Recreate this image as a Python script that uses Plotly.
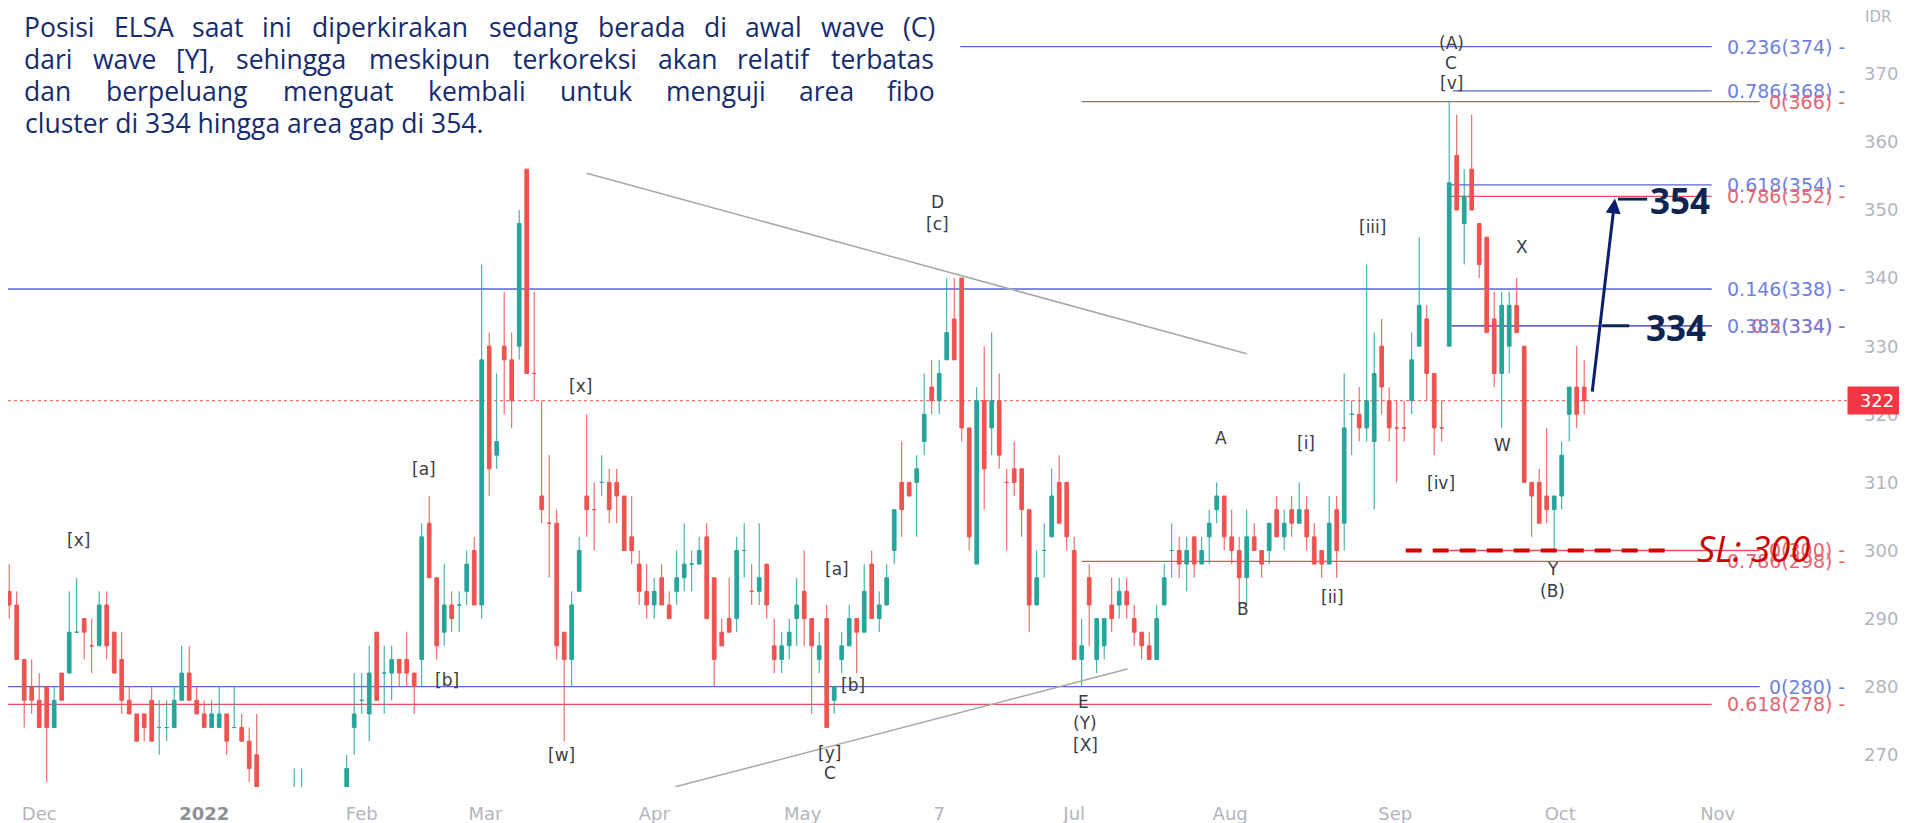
import plotly.graph_objects as go

# ---------------- data (daily candles, trading-day index) ----------------
opens = [288,294,292,284,280,278,280,274,282,282,288,290,286,286,292,288,284,278,276,276,
         278,274,274,274,278,282,278,276,274,274,276,274,274,272,270,262,260,258,256,260,
         260,262,258,256,254,258,262,274,278,276,288,282,282,284,284,282,284,304,296,288,
         292,292,294,300,292,330,314,330,328,330,356,326,308,304,304,288,284,294,308,306,
         310,310,310,308,302,298,294,292,296,292,294,296,298,298,302,296,288,290,290,300,
         294,294,298,286,284,286,290,294,290,284,290,278,284,286,290,288,298,290,292,300,
         310,310,310,316,324,322,328,334,340,318,298,322,318,322,310,312,312,306,292,300,
         302,310,310,300,284,296,284,286,292,292,294,290,288,286,284,292,300,300,298,302,
         298,302,306,308,302,300,296,302,300,300,306,302,306,304,306,302,300,298,306,304,
         320,320,318,316,330,322,318,318,322,330,334,326,318,330,358,348,356,348,346,334,
         326,330,336,330,310,310,308,306,308,320,324,324]
highs = [296,298,294,284,284,282,280,280,282,294,296,290,290,294,294,288,288,280,276,276,
         280,278,278,280,286,286,280,278,278,280,276,280,276,274,276,264,262,262,262,268,
         268,264,262,260,260,262,270,282,282,286,288,286,286,284,288,282,304,308,296,298,
         294,294,300,302,342,332,326,338,332,350,356,338,322,314,306,288,294,302,320,310,
         314,312,312,308,308,300,298,296,298,294,300,304,300,302,304,296,290,296,302,304,
         298,304,298,290,288,290,296,300,290,288,292,280,288,292,290,298,300,294,298,306,
         316,310,314,326,328,328,340,340,340,318,324,330,332,326,312,316,312,306,300,304,
         312,314,310,302,290,298,290,290,296,296,296,292,288,288,292,298,304,302,302,302,
         302,306,310,308,306,302,306,304,300,304,308,306,308,310,308,304,300,308,308,326,
         322,324,342,332,334,324,322,322,332,346,336,326,322,366,364,356,364,348,346,338,
         338,338,340,330,310,312,318,308,316,324,330,328]
lows = [286,290,284,274,276,274,266,274,278,282,288,284,282,286,284,282,276,276,272,272,
        272,270,272,274,278,278,276,274,274,274,270,274,272,266,262,258,256,254,254,258,
        258,256,254,252,252,256,260,270,276,272,278,276,278,280,280,276,280,296,284,286,
        288,288,292,292,290,308,312,320,318,328,326,322,304,296,284,272,280,294,302,300,
        308,304,304,300,298,292,290,290,292,290,292,294,294,298,290,280,286,288,288,296,
        292,292,290,282,282,284,286,286,276,282,274,276,282,286,282,288,290,288,292,298,
        302,308,302,314,320,320,328,328,316,300,298,306,314,312,300,308,302,288,292,296,
        302,304,300,284,280,286,282,284,288,290,290,286,284,284,284,292,296,296,294,296,
        298,298,304,300,298,292,292,300,296,298,302,300,302,304,300,298,296,298,296,300,
        314,316,316,306,320,316,310,316,320,330,322,314,316,330,350,342,350,340,332,324,
        318,326,332,310,302,304,304,300,306,316,318,320]
closes = [294,292,284,278,278,274,274,278,278,288,288,288,286,292,286,282,278,276,272,274,
          272,274,274,278,282,278,276,274,276,276,272,274,272,268,264,260,258,256,260,262,
          262,258,256,254,258,260,268,276,278,282,278,282,284,282,282,280,302,296,286,292,
          290,292,298,292,328,312,316,328,322,348,326,326,306,304,286,284,292,300,306,306,
          310,306,308,300,300,294,292,294,292,290,296,298,298,300,290,284,286,288,300,300,
          294,296,292,284,286,288,292,290,286,286,274,280,286,290,288,294,290,292,296,306,
          306,308,312,320,322,326,332,328,318,302,322,312,322,314,310,310,306,292,296,300,
          308,304,302,284,286,292,290,290,290,294,292,288,286,284,290,296,300,298,300,298,
          300,304,308,302,300,296,302,300,298,304,302,304,304,306,302,298,298,304,300,318,
          320,318,322,326,324,318,318,318,328,336,326,318,318,354,350,352,350,342,332,326,
          336,336,332,310,308,304,306,308,314,324,320,322]
candle_idx = list(range(len(opens)))

month_pos = [5, 27, 48, 64.5, 87, 106.8, 125, 143, 163.8, 185.8, 207.8, 228.8]
month_text = ["Dec", "<span style='color:#8d9099'><b>2022</b></span>", "Feb", "Mar", "Apr",
              "May", "7", "Jul", "Aug", "Sep", "Oct", "Nov"]
price_ticks = [270, 280, 290, 300, 310, 320, 330, 340, 350, 360, 370]
last_price = 322

# fib levels: (start index, end index, level, colour key, label)
fib_levels = [
    (127.8, 228.0, 374.0, "b", "0.236(374) -"),
    (193.5, 228.0, 367.5, "b", "0.786(368) -"),
    (144.0, 234.4, 365.9, "r", "0(366) -"),
    (193.0, 228.0, 353.7, "b", "0.618(354) -"),
    (193.0, 228.0, 352.0, "r", "0.786(352) -"),
    (0.0, 228.0, 338.4, "b", "0.146(338) -"),
    (193.3, 228.0, 333.0, "r", "0.5(334) -"),
    (193.3, 228.0, 333.0, "b", "0.382(334) -"),
    (193.0, 234.4, 300.0, "r", "0(300) -"),
    (144.0, 228.0, 298.4, "r", "0.786(298) -"),
    (0.0, 234.4, 280.0, "b", "0(280) -"),
    (0.0, 228.0, 277.4, "r", "0.618(278) -"),
]

wave_labels = [
    ("[x]", 10.2, 301.5), ("[a]", 56.3, 312.0), ("[b]", 59.4, 281.0),
    ("[x]", 77.2, 324.2), ("[w]", 74.7, 270.0), ("[a]", 111.4, 297.3),
    ("[b]", 113.5, 280.3), ("[y]", 110.4, 270.3), ("C", 110.4, 267.3),
    ("D", 124.8, 351.2), ("[c]", 124.8, 347.9), ("E", 144.2, 277.8),
    ("(Y)", 144.4, 274.7), ("[X]", 144.5, 271.4), ("A", 162.6, 316.5),
    ("B", 165.5, 291.4), ("[i]", 173.9, 315.8), ("[ii]", 177.4, 293.2),
    ("[iii]", 182.8, 347.5), ("[iv]", 191.9, 309.9), ("W", 200.1, 315.5),
    ("X", 202.7, 344.6), ("Y", 206.8, 297.3), ("(B)", 206.8, 294.0),
    ("(A)", 193.3, 374.5), ("C", 193.3, 371.6), ("[v]", 193.3, 368.6),
]

para_lines = [
    ("Posisi ELSA saat ini diperkirakan sedang berada di awal wave (C)", True),
    ("dari wave [Y], sehingga meskipun terkoreksi akan relatif terbatas", True),
    ("dan berpeluang menguat kembali untuk menguji area fibo", True),
    ("cluster di 334 hingga area gap di 354.", False),
]

# ---------------- geometry ----------------
# the page adds an 8px body margin, so the figure is 8px smaller and offset
OFF = 8
W, H = 1907 - OFF, 823 - OFF
ML, MR, MT, MB = 0, 60, 0, 36
PW, PH = W - ML - MR, H - MT - MB
XR = [0.84, 246.04]
YR = [265.27, 379.66]


def px_x(x_ref):
    return (x_ref - OFF) / PW


def px_y(y_ref):
    return 1 - (y_ref - OFF) / PH


BLUE_LINE, BLUE_TXT = "#5566d9", "#6f7fdc"
RED_LINE, RED_TXT = "#e3505e", "#e8646f"
NAVY = "#0d2350"
PARA = "#142b6f"

fig = go.Figure()
fig.add_trace(go.Candlestick(
    x=candle_idx, open=opens, high=highs, low=lows, close=closes,
    increasing=dict(line=dict(color="#26a69a", width=1), fillcolor="#26a69a"),
    decreasing=dict(line=dict(color="#ef5350", width=1), fillcolor="#ef5350"),
    whiskerwidth=0, hoverinfo="skip", showlegend=False,
))

shapes = []
for s, e, lvl, ck, lab in fib_levels:
    col = BLUE_LINE if ck == "b" else RED_LINE
    shapes.append(dict(type="line", xref="x", yref="y", x0=max(s, XR[0]), x1=e, y0=lvl, y1=lvl,
                       line=dict(color=col, width=1.3), layer="below"))
shapes.append(dict(type="line", xref="paper", yref="y", x0=0, x1=1, y0=last_price, y1=last_price,
                   line=dict(color="#ef5350", width=1, dash="dot"), layer="below"))
shapes.append(dict(type="line", xref="x", yref="y", x0=78.0, y0=355.4, x1=166.0, y1=328.9,
                   line=dict(color="#a8a8a8", width=1.5)))
shapes.append(dict(type="line", xref="x", yref="y", x0=89.8, y0=265.3, x1=150.1, y1=282.6,
                   line=dict(color="#a8a8a8", width=1.5)))
shapes.append(dict(type="line", xref="x", yref="y", x0=187.2, x1=222.8, y0=300, y1=300,
                   line=dict(color="#d50000", width=4, dash="16px,11px")))
shapes.append(dict(type="line", xref="x", yref="y", x0=215.5, x1=219.4, y0=351.6, y1=351.6,
                   line=dict(color=NAVY, width=3)))
shapes.append(dict(type="line", xref="x", yref="y", x0=213.4, x1=217.0, y0=333.0, y1=333.0,
                   line=dict(color=NAVY, width=3)))

ann = []
for s, e, lvl, ck, lab in fib_levels:
    ann.append(dict(xref="paper", yref="y", x=1, y=lvl, xanchor="right", yanchor="middle",
                    text=lab, showarrow=False,
                    font=dict(family="DejaVu Sans", size=19,
                              color=BLUE_TXT if ck == "b" else RED_TXT)))
for t, xi, yv in wave_labels:
    ann.append(dict(xref="x", yref="y", x=xi, y=yv, text=t, showarrow=False,
                    xanchor="center", yanchor="middle",
                    font=dict(family="DejaVu Sans", size=17, color="#3a3d45")))

# paragraph, justified word by word (approximate Open Sans advance widths)
CW = {'a': .556, 'b': .613, 'c': .480, 'd': .613, 'e': .561, 'f': .336, 'g': .548, 'h': .614,
      'i': .258, 'j': .258, 'k': .531, 'l': .258, 'm': .932, 'n': .614, 'o': .602, 'p': .613,
      'q': .613, 'r': .409, 's': .477, 't': .352, 'u': .614, 'v': .502, 'w': .778, 'x': .523,
      'y': .502, 'z': .462, 'P': .586, 'E': .556, 'L': .519, 'S': .549, 'A': .633, 'C': .631,
      'Y': .567, '(': .297, ')': .297, '[': .328, ']': .328, ',': .249, '.': .266}
FS = 26.5
LEFT, RIGHT = 23, 936
line_y = [27, 59, 91, 123]


def word_w(wd):
    return sum(CW.get(ch, .572) for ch in wd) * FS * 1.035


for (line, justify), ly in zip(para_lines, line_y):
    if not justify:
        ann.append(dict(xref="paper", yref="paper", x=px_x(LEFT), y=px_y(ly),
                        xanchor="left", yanchor="middle", text=line, showarrow=False,
                        font=dict(family="Open Sans", size=FS, color=PARA)))
        continue
    words = line.split()
    ws = [word_w(wd) for wd in words]
    gap = (RIGHT - LEFT - sum(ws)) / (len(words) - 1)
    xcur = LEFT
    for wd, wv in zip(words, ws):
        ann.append(dict(xref="paper", yref="paper", x=px_x(xcur + wv / 2), y=px_y(ly),
                        xanchor="center", yanchor="middle", text=wd, showarrow=False,
                        font=dict(family="Open Sans", size=FS, color=PARA)))
        xcur += wv + gap

# targets & SL texts
ann.append(dict(xref="x", yref="y", x=223.8, y=351.4, text="<b>354</b>", showarrow=False,
                font=dict(family="Open Sans", size=35, color=NAVY)))
ann.append(dict(xref="x", yref="y", x=223.3, y=332.7, text="<b>334</b>", showarrow=False,
                font=dict(family="Open Sans", size=35, color=NAVY)))
ann.append(dict(xref="x", yref="y", x=233.6, y=300.3, text="<i>SL: 300</i>", showarrow=False,
                font=dict(family="Open Sans", size=36, color="#cc0000")))
ann.append(dict(xref="x", yref="y", x=215.1, y=351.7, ax=212.05, ay=323.1,
                axref="x", ayref="y", text="", showarrow=True, arrowhead=2,
                arrowsize=1, arrowwidth=3, arrowcolor="#0b1f6e"))
ann.append(dict(xref="paper", yref="y", x=1, y=last_price, xanchor="left", yanchor="middle",
                text=str(last_price), showarrow=False, bgcolor="#f23645", width=56, height=25,
                borderpad=1, font=dict(family="DejaVu Sans", size=18, color="white")))
ann.append(dict(xref="paper", yref="paper", x=1, y=px_y(17), xanchor="left", yanchor="middle",
                xshift=16, text="IDR", showarrow=False,
                font=dict(family="DejaVu Sans", size=15, color="#b2b5be")))

fig.update_layout(
    width=W, height=H, margin=dict(l=ML, r=MR, t=MT, b=MB),
    paper_bgcolor="white", plot_bgcolor="white", showlegend=False,
    shapes=shapes, annotations=ann,
    xaxis=dict(range=XR, tickvals=month_pos, ticktext=month_text, showgrid=False,
               zeroline=False, showline=False, ticks="", rangeslider=dict(visible=False),
               tickfont=dict(family="DejaVu Sans", size=18, color="#b2b5be"),
               ticklabelstandoff=14),
    yaxis=dict(range=YR, side="right", tickvals=price_ticks, showgrid=False, zeroline=False,
               showline=False, ticks="", ticklabelstandoff=16,
               tickfont=dict(family="DejaVu Sans", size=18, color="#b2b5be")),
)

fig.write_html("out.html")
